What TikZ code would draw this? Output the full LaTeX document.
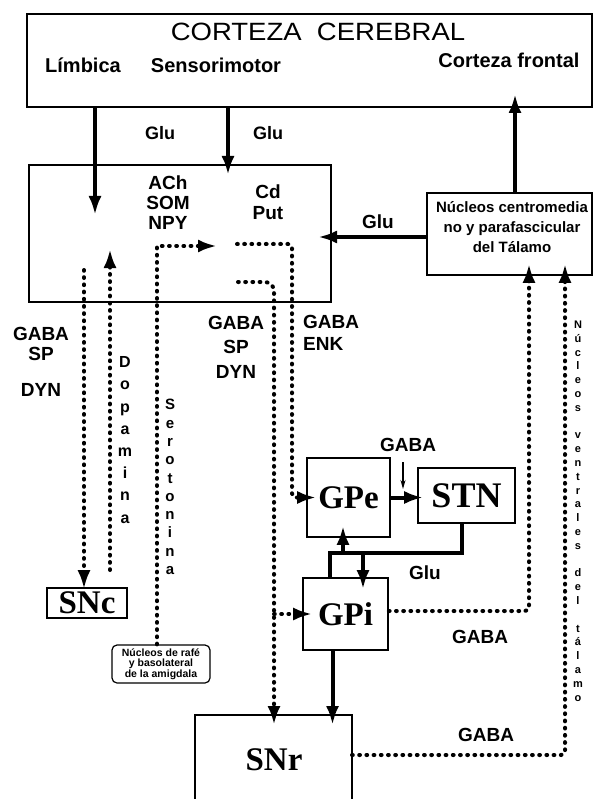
\documentclass[tikz,border=0pt]{standalone}
\usepackage{fontspec}
\setmainfont{Liberation Sans}
\newfontfamily\serifa{Liberation Serif}
\usetikzlibrary{arrows.meta, calc}

\begin{document}
\begin{tikzpicture}[x=1pt, y=-1pt,
    caja/.style={draw, line width=1.6pt, inner sep=0pt},
    solido/.style={line width=4pt},
    flecha/.style={solido, -{Latex[length=19pt, width=13pt]}},
    punteado/.style={line width=4pt, line cap=round, dash pattern=on 0.8pt off 6.4pt},
    pflecha/.style={punteado, -{Latex[length=19pt, width=13pt]}},
    fina/.style={line width=1.2pt, -{Stealth[length=9pt, width=5pt]}},
    etq/.style={font=\bfseries\fontsize{19}{20}\selectfont, align=center, inner sep=0pt},
    nucleo/.style={caja, font=\serifa\bfseries\fontsize{33}{33}\selectfont},
    letras/.style={font=\bfseries\fontsize{#1}{#1}\selectfont, align=center, inner sep=0pt}]
    \useasboundingbox (0,0) rectangle (593,799);

    \node[caja, minimum width=565pt, minimum height=93pt] (corteza) at (309.5,60.5) {};
    \node[font=\fontsize{25}{25}\selectfont, inner sep=0pt] (titulo) at (318,32) {\scalebox{1.1}[1]{CORTEZA\ \ CEREBRAL}};
    \node[etq, font=\bfseries\fontsize{20}{20}\selectfont] (limbica) at (83,65) {Límbica};
    \node[etq, font=\bfseries\fontsize{20}{20}\selectfont] (sensor) at (216,65) {Sensorimotor};
    \node[etq, font=\bfseries\fontsize{20}{20}\selectfont] (frontal) at (509,60) {Corteza frontal};

    \node[caja, minimum width=302pt, minimum height=137pt] (estriado) at (180,233.5) {};
    \node[etq] (neuro) at (168,203) {ACh\\SOM\\NPY};
    \node[etq, font=\bfseries\fontsize{19}{21}\selectfont] (cdput) at (268,202) {Cd\\Put};

    \node[caja, minimum width=165pt, minimum height=82pt] (talamo) at (509.5,234) {};
    \node[etq, font=\bfseries\fontsize{15}{20}\selectfont] (talamotxt) at (512,227) {Núcleos centromedia\\no y parafascicular\\del Tálamo};

    \node[nucleo, minimum width=83pt, minimum height=79pt] (gpe) at (348.5,497.5) {GPe};
    \node[nucleo, font=\serifa\bfseries\fontsize{36}{36}\selectfont, minimum width=97pt, minimum height=55pt] (stn) at (466.5,495.5) {STN};
    \node[nucleo, minimum width=85pt, minimum height=72pt] (gpi) at (345.5,614) {GPi};
    \node[nucleo, minimum width=80pt, minimum height=30pt] (snc) at (87,603) {SNc};
    \node[font=\serifa\bfseries\fontsize{33}{33}\selectfont, inner sep=0pt] (snr) at (274,760) {SNr};
    \coordinate (snrNO) at (195,715);
    \coordinate (snrNE) at (352,715);
    \draw[line width=1.6pt] (snrNO |- 0,799) -- (snrNO) -- (snrNE) -- (snrNE |- 0,799);
    \node[draw, line width=1.2pt, rounded corners=5pt, minimum width=98pt, minimum height=38pt, inner sep=0pt,
        font=\bfseries\fontsize{10.5}{10.5}\selectfont, align=center] (rafe) at (161,664) {Núcleos de rafé\\y basolateral\\de la amigdala};

    \node[etq, font=\bfseries\fontsize{18}{18}\selectfont] (glu1) at (160,133) {Glu};
    \node[etq, font=\bfseries\fontsize{18}{18}\selectfont] (glu2) at (268,133) {Glu};
    \node[etq, font=\bfseries\fontsize{19}{19}\selectfont] (glu3) at (378,222) {Glu};
    \node[etq, font=\bfseries\fontsize{19}{19}\selectfont] (glu4) at (425,573) {Glu};
    \node[etq] (gabaizq) at (41,362) {GABA\\SP\\[16pt]DYN};
    \node[etq, font=\bfseries\fontsize{19}{24.5}\selectfont] (gabamed) at (236,347) {GABA\\SP\\DYN};
    \node[etq, font=\bfseries\fontsize{19}{22}\selectfont, align=left, anchor=west] (gabaenk) at (303,333) {GABA\\ENK};
    \node[etq] (gaba1) at (408,445) {GABA};
    \node[etq] (gaba2) at (480,637) {GABA};
    \node[etq] (gaba3) at (486,735) {GABA};
    \node[letras=15, font=\bfseries\fontsize{16}{22.2}\selectfont] (dopa) at (125,440) {D\\o\\p\\a\\m\\i\\n\\a};
    \node[letras=14, font=\bfseries\fontsize{15}{18.3}\selectfont] (sero) at (170,487) {S\\e\\r\\o\\t\\o\\n\\i\\n\\a};
    \node[letras=11, font=\bfseries\fontsize{11}{13.8}\selectfont] (ventral) at (578,511)
        {N\\ú\\c\\l\\e\\o\\s\\[13.8pt]v\\e\\n\\t\\r\\a\\l\\e\\s\\[13.8pt]d\\e\\l\\[13.8pt]t\\á\\l\\a\\m\\o};

    \coordinate (limB) at (95,215);
    \coordinate (senB) at (228,175);
    \coordinate (froB) at (515,94);
    \coordinate (gluB) at (318,237);
    \draw[flecha] (limB |- corteza.south) -- (limB);
    \draw[flecha] (senB |- corteza.south) -- (senB);
    \draw[flecha] (froB |- talamo.north) -- (froB);
    \draw[flecha] (gluB -| talamo.west) -- (gluB);

    \coordinate (nigA) at (84,270);
    \coordinate (dopA) at (110,570);
    \coordinate (dopB) at (110,249);
    \coordinate (serB) at (217,246);
    \draw[pflecha, shorten >=-2pt] (nigA) -- (nigA |- snc.north);
    \draw[pflecha] (dopA) -- (dopB);
    \draw[pflecha] ([xshift=-4pt]rafe.north) -- ([xshift=-4pt]rafe.north |- serB) -- (serB);

    \coordinate (indA) at (237,244);
    \coordinate (indB) at (292,244);
    \draw[pflecha, rounded corners=4pt, shorten >=-10pt] (indA) -- (indB) -- (indB |- gpe.west) -- (gpe.west);
    \coordinate (dirA) at (238,282);
    \coordinate (dirB) at (274,282);
    \draw[pflecha, rounded corners=9pt, shorten >=-10pt] (dirA) -- (dirB) -- (dirB |- snrNO);
    \draw[pflecha, shorten >=-10pt] (dirB |- gpi.west) -- (gpi.west);

    \coordinate (gpiT) at (529,611);
    \draw[pflecha, rounded corners=4pt, shorten >=-12pt] (gpi.east |- gpiT) -- (gpiT) -- (gpiT |- talamo.south);
    \coordinate (snrS) at (352,755);
    \coordinate (snrT) at (565,755);
    \draw[pflecha, rounded corners=4pt, shorten >=-12pt] (snrS) -- (snrT) -- (snrT |- talamo.south);

    \draw[flecha, shorten >=-6pt] (gpe.east) -- (gpe.east -| stn.west);
    \coordinate (gabaA) at (403,462);
    \draw[fina] (gabaA) -- (403,489);
    \coordinate (stnC) at (462,553);
    \coordinate (stnL) at (330,553);
    \draw[solido] (stnC |- stn.south) -- (stnC) -- (stnL) -- (stnL |- gpi.north);
    \coordinate (gpeU) at (343,553);
    \coordinate (gpiD) at (363,553);
    \draw[flecha, shorten >=-12pt] (gpeU) -- (gpeU |- gpe.south);
    \draw[flecha, shorten >=-12pt] (gpiD) -- (gpiD |- gpi.north);
    \draw[flecha, shorten >=-10pt] ([xshift=-13pt]gpi.south) -- ([xshift=-13pt]gpi.south |- snrNE);
\end{tikzpicture}
\end{document}
